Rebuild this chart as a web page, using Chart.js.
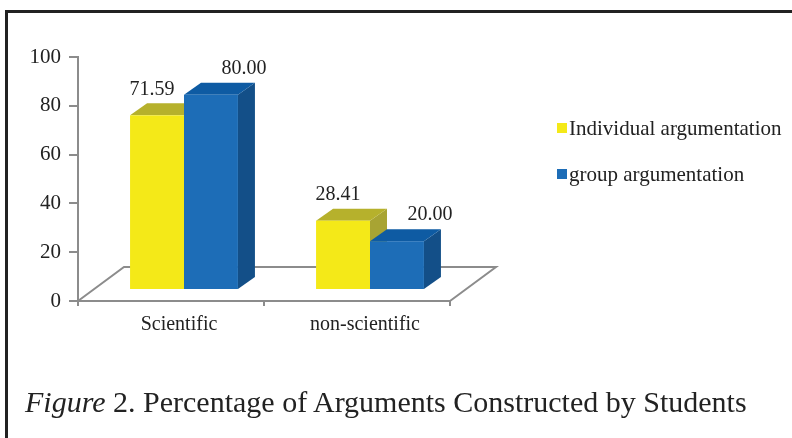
<!DOCTYPE html>
<html>
<head>
<meta charset="utf-8">
<script src="https://cdn.jsdelivr.net/npm/chart.js@4.4.1/dist/chart.umd.min.js"></script>
<style>
  html, body { margin: 0; padding: 0; background: #fff; }
  #wrap { position: relative; width: 792px; height: 438px; overflow: hidden; }
  #c { position: absolute; left: 0; top: 0; }
  #frameTop { position: absolute; left: 5px; top: 10px; width: 800px; height: 2.5px; background: #222; }
  #frameLeft { position: absolute; left: 5px; top: 10px; width: 2.5px; height: 440px; background: #222; }
  #caption { position: absolute; left: 25px; top: 383px; font-family: "Liberation Serif", "Times New Roman", serif; font-size: 30px; color: #222; white-space: nowrap; line-height: 38px; }
</style>
</head>
<body>
<div id="wrap">
  <canvas id="c" width="792" height="438"></canvas>
  <div id="frameTop"></div>
  <div id="frameLeft"></div>
  <div id="caption"><i>Figure</i> 2. Percentage of Arguments Constructed by Students</div>
</div>
<script>
const categories = ["Scientific", "non-scientific"];
const seriesNames = ["Individual argumentation", "group argumentation"];
const individualValues = [71.59, 28.41];
const groupValues = [80.00, 20.00];
const yTicks = [0, 20, 40, 60, 80, 100];

const SERIF = '"Liberation Serif", "Times New Roman", serif';
const faceColors = [
  { front: '#f4e918', top: '#b6b12c', side: '#a8a433' },
  { front: '#1d6db7', top: '#0e5ba3', side: '#134f88' }
];
const labelDx = [-5, 33];

const FRONT = { dx: 13, dy: -11 };   // bar placement inside floor depth
const DEPTH = { dx: 17, dy: -12 };   // bar depth
const FLOOR = { dx: 46, dy: -34 };   // floor depth

const threeD = {
  id: 'threeD',
  beforeDatasetsDraw(chart) {
    const ctx = chart.ctx;
    const a = chart.chartArea;
    const y0 = chart.scales.y.getPixelForValue(0);
    ctx.save();
    ctx.strokeStyle = '#8c8c8c';
    ctx.lineWidth = 2;
    ctx.beginPath();
    ctx.moveTo(a.left, y0);
    ctx.lineTo(a.left + FLOOR.dx, y0 + FLOOR.dy);
    ctx.lineTo(a.right + FLOOR.dx, y0 + FLOOR.dy);
    ctx.lineTo(a.right, y0);
    ctx.stroke();
    ctx.restore();
  },
  beforeDatasetDraw() { return false; },
  afterDatasetsDraw(chart) {
    const ctx = chart.ctx;
    const metas = chart.data.datasets.map((d, i) => chart.getDatasetMeta(i));
    ctx.save();
    for (let c = 0; c < categories.length; c++) {
      metas.forEach((meta, di) => {
        const el = meta.data[c];
        const col = faceColors[di];
        const l = el.x - el.width / 2 + FRONT.dx;
        const r = el.x + el.width / 2 + FRONT.dx;
        const t = el.y + FRONT.dy;
        const b = el.base + FRONT.dy;
        ctx.fillStyle = col.side;
        ctx.beginPath();
        ctx.moveTo(r, t); ctx.lineTo(r + DEPTH.dx, t + DEPTH.dy);
        ctx.lineTo(r + DEPTH.dx, b + DEPTH.dy); ctx.lineTo(r, b);
        ctx.closePath(); ctx.fill();
        ctx.fillStyle = col.top;
        ctx.beginPath();
        ctx.moveTo(l, t); ctx.lineTo(l + DEPTH.dx, t + DEPTH.dy);
        ctx.lineTo(r + DEPTH.dx, t + DEPTH.dy); ctx.lineTo(r, t);
        ctx.closePath(); ctx.fill();
        ctx.fillStyle = col.front;
        ctx.fillRect(l, t, r - l, b - t);
      });
    }
    ctx.fillStyle = '#222';
    ctx.font = '20px ' + SERIF;
    ctx.textAlign = 'center';
    ctx.textBaseline = 'middle';
    metas.forEach((meta, di) => {
      const data = chart.data.datasets[di].data;
      meta.data.forEach((el, c) => {
        ctx.fillText(data[c].toFixed(2), el.x + FRONT.dx + labelDx[di], el.y + FRONT.dy - 26);
      });
    });
    ctx.textAlign = 'left';
    ctx.font = '21px ' + SERIF;
    const legendY = [128, 174];
    chart.data.datasets.forEach((ds, di) => {
      ctx.fillStyle = faceColors[di].front;
      ctx.fillRect(557, legendY[di] - 5, 10, 10);
      ctx.fillStyle = '#222';
      ctx.fillText(ds.label, 569, legendY[di] + 1);
    });
    ctx.restore();
  }
};

new Chart(document.getElementById('c'), {
  type: 'bar',
  data: {
    labels: categories,
    datasets: [
      { label: seriesNames[0], data: individualValues, backgroundColor: faceColors[0].front },
      { label: seriesNames[1], data: groupValues, backgroundColor: faceColors[1].front }
    ]
  },
  options: {
    responsive: false,
    animation: false,
    devicePixelRatio: 1,
    layout: { padding: { left: 0, top: 57, right: 342, bottom: 97 } },
    datasets: { bar: { categoryPercentage: 0.58, barPercentage: 1 } },
    plugins: { legend: { display: false }, tooltip: { enabled: false } },
    scales: {
      x: {
        afterFit(s) { s.height = 40; },
        grid: { display: true, drawOnChartArea: false, offset: true, color: '#8c8c8c', lineWidth: 2, tickLength: 5 },
        border: { display: true, color: '#8c8c8c', width: 2 },
        ticks: { color: '#222', font: { family: SERIF, size: 20 }, padding: 7, labelOffset: 8, maxRotation: 0 }
      },
      y: {
        min: 0, max: 100,
        afterFit(s) { s.width = 78; },
        afterBuildTicks(s) { s.ticks = yTicks.map(v => ({ value: v })); },
        grid: { display: true, drawOnChartArea: false, color: '#8c8c8c', lineWidth: 2, tickLength: 9 },
        border: { display: true, color: '#8c8c8c', width: 2 },
        ticks: { color: '#222', font: { family: SERIF, size: 21 }, padding: 8 }
      }
    }
  },
  plugins: [threeD]
});
</script>
</body>
</html>
